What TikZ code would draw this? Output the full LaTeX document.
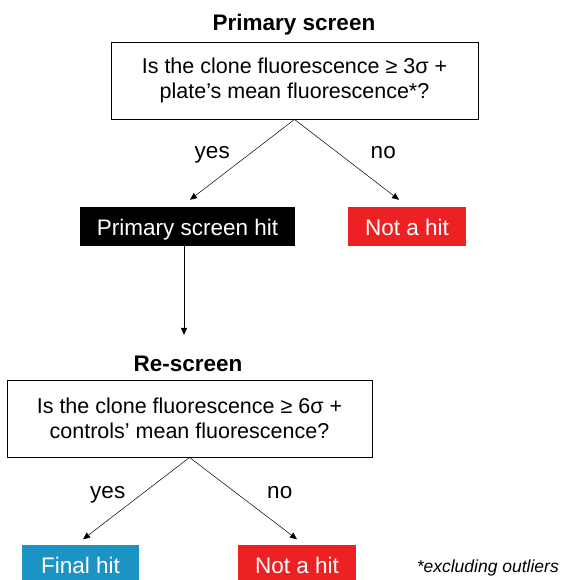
\documentclass[tikz,border=0pt]{standalone}
\usepackage{fontspec}
\setmainfont{Liberation Sans}
\usetikzlibrary{arrows.meta,positioning}
\definecolor{hitred}{HTML}{ED2024}
\definecolor{hitblue}{HTML}{1B93C4}
\tikzset{
    question/.style={rectangle, draw=black, line width=0.9pt,
        minimum height=77pt, align=center, inner sep=0pt,
        font=\fontsize{21.5}{24.5}\selectfont},
    title/.style={inner sep=0pt, font=\fontsize{22.5}{25}\selectfont\bfseries},
    outcome/.style={rectangle, minimum height=39pt, inner sep=0pt,
        text height=22pt, text depth=4pt,
        text=white, font=\fontsize{22.5}{25}\selectfont},
    answer/.style={inner sep=0pt, text height=16pt, text depth=5pt,
        font=\fontsize{22.5}{25}\selectfont},
    flow/.style={-{Triangle[length=7pt,width=6pt]}, line width=0.5pt}
}

\begin{document}
\begin{tikzpicture}[x=1pt,y=-1pt]
        \useasboundingbox (0,0) rectangle (560,580);
        % primary screen
        \node[title] (t1) at (294,25) {Primary screen};
        \node[question, minimum width=367pt] (q1) at (294.5,80.5)
            {Is the clone fluorescence ≥ 3σ +\\ plate’s mean fluorescence*?};
        \node[outcome, fill=black, minimum width=215pt] (hit1) at (187.5,226.5) {Primary screen hit};
        \node[outcome, fill=hitred, minimum width=118pt] (miss1) at (407,226.5) {Not a hit};
        \draw[flow] (q1.south) -- node[answer, xshift=-30pt, yshift=6.5pt]{yes} ([xshift=2.5pt,yshift=7pt]hit1.north);
        \draw[flow] (q1.south) -- node[answer, xshift=36.5pt, yshift=6.5pt]{no} ([xshift=-8pt,yshift=7pt]miss1.north);
        % re-screen
        \node[title] (t2) at (188,364) {Re-screen};
        \draw[flow] ([xshift=-3.5pt]hit1.south) -- ([xshift=-4pt,yshift=21pt]t2.north);
        \node[question, minimum width=365pt] (q2) at (189.5,418.5)
            {Is the clone fluorescence ≥ 6σ +\\ controls’ mean fluorescence?};
        \node[outcome, fill=hitblue, minimum width=117pt] (final) at (80.5,564) {Final hit};
        \node[outcome, fill=hitred, minimum width=118pt] (miss2) at (297,564) {Not a hit};
        \draw[flow] (q2.south) -- node[answer, xshift=-28.5pt, yshift=5pt]{yes} ([xshift=2.5pt,yshift=5pt]final.north);
        \draw[flow] (q2.south) -- node[answer, xshift=36.5pt, yshift=5pt]{no} ([yshift=5pt]miss2.north);
        \node[inner sep=0pt, anchor=east, font=\fontsize{17.5}{20}\selectfont\itshape] (note) at (559,568) {*excluding outliers};
    \end{tikzpicture}
\end{document}
